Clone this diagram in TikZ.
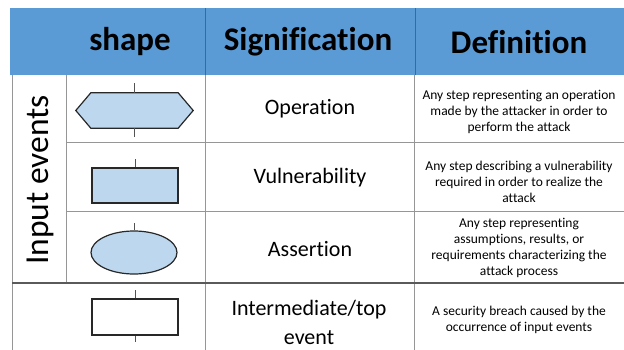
\documentclass[tikz,border=0pt]{standalone}
\usepackage{fontspec}
\setmainfont{Carlito}[Ligatures=NoCommon]
\usetikzlibrary{shapes.geometric}
\definecolor{hdrblue}{RGB}{91,155,213}
\definecolor{hdrline}{RGB}{66,104,140}
\definecolor{gridgrey}{RGB}{150,150,150}
\definecolor{sepgrey}{RGB}{90,90,90}
\definecolor{shapeblue}{RGB}{189,215,238}
\definecolor{outline}{RGB}{40,40,40}
\begin{document}
\begin{tikzpicture}[x=1pt,y=-1pt,
  hdrtext/.style={font=\fontsize{33}{38}\selectfont\bfseries, text=black, inner sep=0},
  sigtext/.style={font=\fontsize{22}{29}\selectfont, align=center, inner sep=0},
  deftext/.style={font=\fontsize{13.5}{16}\selectfont, align=center, inner sep=0},
  sidetext/.style={font=\fontsize{33.5}{36}\selectfont, inner sep=0, rotate=90},
  gridline/.style={draw=gridgrey, line width=0.8pt},
  shapeline/.style={draw=outline, line width=1.2pt},
  tickline/.style={draw=outline!80, line width=1pt}]
\useasboundingbox (0,0) rectangle (624,350);
% header
\fill[hdrblue] (10,8) rectangle (624,75);
\draw[hdrline, line width=1pt] (205,8) -- (205,75) (415,8) -- (415,75);
\node[hdrtext] (h1) at (130,42) {shape};
\node[hdrtext] (h2) at (308,42) {Signification};
\node[hdrtext] (h3) at (519,42) {Definition};
% grid
\draw[gridline] (12,75) -- (12,350);
\draw[gridline] (66,75) -- (66,283);
\draw[gridline] (205,75) -- (205,350);
\draw[gridline] (414,75) -- (414,350);
\draw[gridline] (66,142) -- (624,142);
\draw[gridline] (66,211) -- (624,211);
\draw[draw=sepgrey, line width=1.4pt] (12,283) -- (624,283);
% side label
\node[sidetext] (side) at (40,180) {Input events};
% shapes
\node[minimum width=117, minimum height=35, inner sep=0] (op) at (134.5,110.5) {};
\draw[shapeline, fill=shapeblue] (op.west) -- ([xshift=15]op.north west) -- ([xshift=-15]op.north east)
  -- (op.east) -- ([xshift=-15]op.south east) -- ([xshift=15]op.south west) -- cycle;
\coordinate (opT) at (134.5,83);
\coordinate (opB) at (134.5,137);
\draw[tickline] (op.north) -- (opT);
\draw[tickline] (op.south) -- (opB);
\node[shapeline, fill=shapeblue, minimum width=86, minimum height=35, inner sep=0] (vul) at (135,185.5) {};
\coordinate (vulT) at (135,159);
\draw[tickline] (vul.north) -- (vulT);
\node[shapeline, fill=shapeblue, ellipse, minimum width=86, minimum height=43, inner sep=0] (ass) at (134,252.5) {};
\coordinate (assT) at (134,223);
\draw[tickline] (ass.north) -- (assT);
\node[shapeline, fill=white, minimum width=86, minimum height=36, inner sep=0] (top) at (135,317) {};
\coordinate (topT) at (135,290);
\coordinate (topB) at (135,342);
\draw[tickline] (top.north) -- (topT);
\draw[tickline] (top.south) -- (topB);
% signification
\node[sigtext] (s1) at (310,109) {Operation};
\node[sigtext] (s2) at (310,178) {Vulnerability};
\node[sigtext] (s3) at (310,249) {Assertion};
\node[sigtext] (s4) at (309,322) {Intermediate/top\\event};
% definitions
\node[deftext] (d1) at (519,112) {Any step representing an operation\\made by the attacker in order to\\perform the attack};
\node[deftext] (d2) at (519,182) {Any step describing a vulnerability\\required in order to realize the\\attack};
\node[deftext] (d3) at (519,248) {Any step representing\\assumptions, results, or\\requirements characterizing the\\attack process};
\node[deftext] (d4) at (519,320) {A security breach caused by the\\occurrence of input events};
\end{tikzpicture}
\end{document}
